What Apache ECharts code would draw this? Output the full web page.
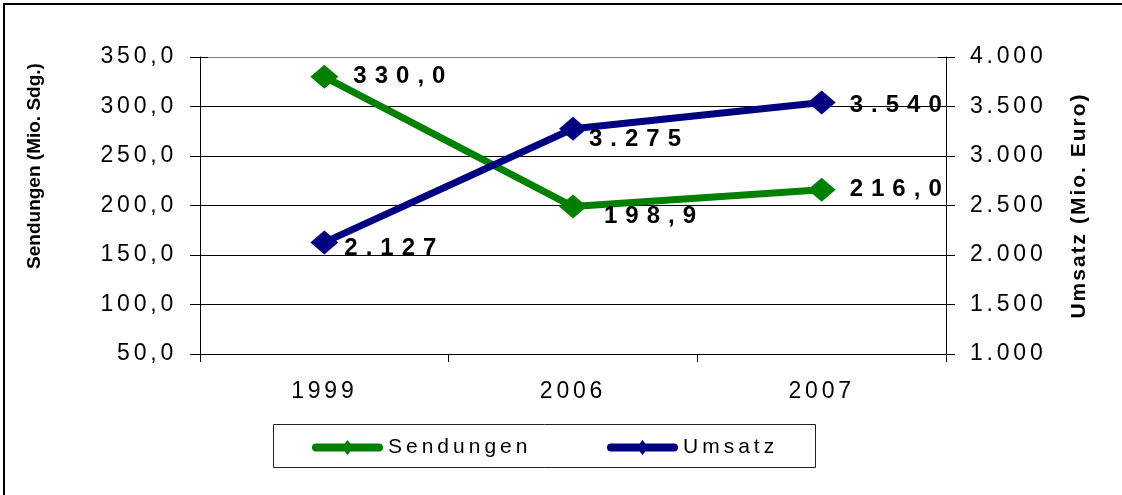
<!DOCTYPE html>
<html>
<head>
<meta charset="utf-8">
<style>
  html, body { margin: 0; padding: 0; background: #fff; }
  #chart { width: 1122px; height: 495px; }
</style>
<script src="https://cdn.jsdelivr.net/npm/echarts@6/dist/echarts.min.js"></script>
</head>
<body>
<div id="chart"></div>
<script>
// ---- data ----
const categories = ['1999', '2006', '2007'];
const sendungen = [330.0, 198.9, 216.0];
const umsatz = [2127, 3275, 3540];
const leftTicks = { min: 50, max: 350, interval: 50 };
const rightTicks = { min: 1000, max: 4000, interval: 500 };

// ---- wide letter spacing as in the reference (canvas letterSpacing by font) ----
(function () {
  const P = CanvasRenderingContext2D.prototype;
  const map = { '23|0': '3.8px', '24|1': '8px', '19|1': '0px', '21|1': '2px', '21|0': '4px' };
  function spacing(font) {
    const m = /(\d+(?:\.\d+)?)px/.exec(font || '');
    if (!m) return '0px';
    const key = Math.round(parseFloat(m[1])) + '|' + (/bold/.test(font) ? 1 : 0);
    return map[key] || '0px';
  }
  const oFill = P.fillText, oStroke = P.strokeText, oMeasure = P.measureText;
  P.fillText = function () { try { this.letterSpacing = spacing(this.font); } catch (e) {} return oFill.apply(this, arguments); };
  P.strokeText = function () { try { this.letterSpacing = spacing(this.font); } catch (e) {} return oStroke.apply(this, arguments); };
  P.measureText = function () { try { this.letterSpacing = spacing(this.font); } catch (e) {} return oMeasure.apply(this, arguments); };
})();

const FONT = 'Liberation Sans, Arial, sans-serif';
const fmtLeft = v => Number(v).toFixed(1).replace('.', ',');
const fmtRight = v => String(Math.round(v)).replace(/\B(?=(\d{3})+(?!\d))/g, '.');

// per-point label nudges (visual placement like the reference)
const sendOffsets = [[1, 0], [3, 10], [0, 0]];
const umsOffsets = [[-8, 6], [-12, 11], [0, 3]];

// legend icon: thick rounded line with a diamond in the middle (Excel style)
const LEGEND_ICON = 'path://M4,3.5 L67,3.5 A4,4 0 0 1 67,11.5 L4,11.5 A4,4 0 0 1 4,3.5 Z M35.5,0 L41.5,7.5 L35.5,15 L29.5,7.5 Z';

const chart = echarts.init(document.getElementById('chart'), null, { renderer: 'canvas' });

const labelBase = {
  show: true, position: 'right', distance: 14,
  color: '#000', fontFamily: FONT, fontSize: 24, fontWeight: 'bold'
};

const legendBase = {
  top: 435, padding: 0,
  itemWidth: 71, itemHeight: 15,
  textStyle: { color: '#000', fontFamily: FONT, fontSize: 21, lineHeight: 21 }
};

const option = {
  animation: false,
  backgroundColor: '#fff',
  grid: { left: 200, right: 176, top: 57, bottom: 141, containLabel: false },
  xAxis: {
    type: 'category', data: categories, boundaryGap: true,
    axisLine: { show: true, lineStyle: { color: '#000', width: 1 } },
    axisTick: { show: true, length: 8, lineStyle: { color: '#000' } },
    axisLabel: { margin: 24, color: '#000', fontFamily: FONT, fontSize: 23 },
    splitLine: { show: false }
  },
  yAxis: [
    {
      type: 'value', position: 'left', min: leftTicks.min, max: leftTicks.max, interval: leftTicks.interval,
      name: 'Sendungen (Mio. Sdg.)', nameLocation: 'middle', nameGap: 156,
      nameTextStyle: { color: '#000', fontFamily: FONT, fontSize: 19, fontWeight: 'bold', padding: [0, 0, 0, 79] },
      axisLine: { show: true, lineStyle: { color: '#000', width: 1 } },
      axisTick: { show: true, length: 10, lineStyle: { color: '#000' } },
      axisLabel: { margin: 23, color: '#000', fontFamily: FONT, fontSize: 23, formatter: fmtLeft },
      splitLine: { show: true, lineStyle: { color: ['#000', '#000', '#000', '#000', '#000', '#000', '#808080'], width: 1 } }
    },
    {
      type: 'value', position: 'right', min: rightTicks.min, max: rightTicks.max, interval: rightTicks.interval,
      name: 'Umsatz (Mio. Euro)', nameLocation: 'middle', nameGap: 122,
      nameTextStyle: { color: '#000', fontFamily: FONT, fontSize: 21, fontWeight: 'bold' },
      axisLine: { show: true, lineStyle: { color: '#000', width: 1 } },
      axisTick: { show: true, length: 9, lineStyle: { color: '#000' } },
      axisLabel: { margin: 24, color: '#000', fontFamily: FONT, fontSize: 23, formatter: fmtRight },
      splitLine: { show: false }
    },
    {
      type: 'value', position: 'left', min: leftTicks.min, max: leftTicks.max, interval: leftTicks.interval,
      axisLine: { show: false }, axisLabel: { show: false }, splitLine: { show: false },
      axisTick: { show: true, inside: true, length: 8, lineStyle: { color: '#000' } }
    },
    {
      type: 'value', position: 'right', min: rightTicks.min, max: rightTicks.max, interval: rightTicks.interval,
      axisLine: { show: false }, axisLabel: { show: false }, splitLine: { show: false },
      axisTick: { show: true, inside: true, length: 8, lineStyle: { color: '#000' } }
    }
  ],
  legend: [
    Object.assign({}, legendBase, { data: [{ name: 'Sendungen', icon: LEGEND_ICON }], left: 312 }),
    Object.assign({}, legendBase, { data: [{ name: 'Umsatz', icon: LEGEND_ICON }], left: 607 })
  ],
  graphic: [
    { type: 'rect', shape: { x: 4, y: 4, width: 1400, height: 800 }, style: { fill: 'none', stroke: '#000', lineWidth: 2 }, silent: true, z: -1 },
    { type: 'rect', shape: { x: 273.5, y: 424.5, width: 542, height: 43 }, style: { fill: 'none', stroke: '#222', lineWidth: 1 }, silent: true, z: -1 }
  ],
  series: [
    {
      name: 'Sendungen', type: 'line', yAxisIndex: 0,
      data: sendungen.map((v, i) => ({ value: v, label: { offset: sendOffsets[i] } })),
      symbol: 'diamond', symbolSize: [28, 24],
      lineStyle: { color: '#008000', width: 7 },
      itemStyle: { color: '#008000' },
      label: Object.assign({}, labelBase, { formatter: p => fmtLeft(p.value) }),
      z: 2
    },
    {
      name: 'Umsatz', type: 'line', yAxisIndex: 1,
      data: umsatz.map((v, i) => ({ value: v, label: { offset: umsOffsets[i] } })),
      symbol: 'diamond', symbolSize: [28, 24],
      lineStyle: { color: '#000080', width: 7 },
      itemStyle: { color: '#000080' },
      label: Object.assign({}, labelBase, { formatter: p => fmtRight(p.value) }),
      z: 3
    }
  ]
};
chart.setOption(option);
</script>
</body>
</html>
